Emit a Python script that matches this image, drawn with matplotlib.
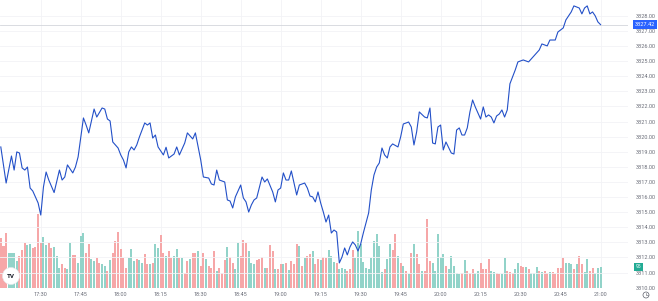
import numpy as np
import matplotlib
matplotlib.use('Agg')
import matplotlib.pyplot as plt
from matplotlib.patches import Ellipse
from matplotlib.lines import Line2D

plt.rcParams['font.family'] = ['Roboto', 'DejaVu Sans']

# minutes after 17:15 and close price at that minute
line_min = [0, 2, 4, 5, 6, 7, 8, 9, 10, 11, 12, 14, 15, 16, 17, 18, 20, 22, 23, 24,
            25, 27, 28, 29, 31, 32, 33, 35, 36, 38, 39, 40, 41, 42, 44, 45, 46, 47, 48, 49,
            50, 51, 52, 54, 55, 56, 57, 58, 59, 61, 62, 63, 65, 66, 67, 69, 70, 72, 73, 75,
            76, 78, 79, 80, 81, 82, 84, 85, 86, 87, 88, 90, 91, 92, 93, 94, 95, 96, 98, 99,
            100, 102, 103, 104, 105, 106, 107, 108, 109, 111, 112, 114, 115, 116, 117, 118, 119, 120, 121, 122,
            123, 124, 125, 126, 127, 128, 129, 130, 131, 132, 133, 134, 135, 136, 137, 138, 139, 140, 141, 142,
            143, 144, 145, 146, 147, 149, 150, 151, 153, 154, 155, 156, 157, 159, 160, 161, 162, 163, 164, 165,
            166, 167, 169, 170, 171, 172, 173, 174, 175, 176, 177, 178, 180, 181, 182, 183, 184, 185, 186, 187,
            188, 189, 190, 191, 193, 194, 196, 198, 200, 202, 203, 205, 206, 208, 209, 211, 212, 214, 215, 217,
            218, 219, 220, 221, 222, 223, 224, 225]
line_close = [3319.32, 3316.93, 3318.72, 3317.79, 3318.99, 3318.92, 3317.93, 3317.79, 3317.99, 3316.60,
              3316.40, 3315.61, 3314.81, 3316.67, 3317.66, 3317.13, 3316.30, 3317.79, 3317.13, 3317.33,
              3318.13, 3317.60, 3317.99, 3318.66, 3321.24, 3320.77, 3320.25, 3321.83, 3321.30, 3321.90,
              3321.83, 3321.17, 3321.04, 3319.65, 3319.25, 3318.79, 3318.46, 3317.93, 3318.99, 3319.32,
              3319.12, 3319.45, 3319.98, 3320.91, 3320.77, 3320.91, 3319.91, 3320.11, 3319.32, 3318.79,
              3319.30, 3318.59, 3318.85, 3319.32, 3318.79, 3319.58, 3320.25, 3319.85, 3320.25, 3318.46,
              3317.33, 3317.26, 3316.87, 3316.80, 3317.79, 3317.13, 3317.00, 3315.81, 3315.74, 3315.28,
              3316.01, 3316.80, 3315.94, 3315.68, 3315.01, 3315.48, 3315.81, 3315.94, 3317.33, 3317.00,
              3317.20, 3316.34, 3315.68, 3316.47, 3316.60, 3317.60, 3317.13, 3317.13, 3317.73, 3316.14,
              3316.80, 3316.93, 3316.60, 3316.07, 3316.01, 3315.68, 3316.34, 3315.61, 3315.01, 3314.35,
              3314.81, 3313.62, 3313.82, 3313.69, 3311.64, 3312.03, 3312.63, 3312.17, 3312.70, 3313.03,
              3312.83, 3312.43, 3312.89, 3313.62, 3314.28, 3314.95, 3316.47, 3317.46, 3317.99, 3318.26,
              3319.25, 3318.79, 3318.59, 3319.32, 3319.52, 3319.32, 3319.98, 3320.84, 3320.97, 3320.64,
              3319.45, 3320.31, 3321.64, 3321.30, 3321.24, 3321.90, 3319.58, 3319.52, 3320.64, 3320.77,
              3319.12, 3319.65, 3318.92, 3318.85, 3320.44, 3320.58, 3320.11, 3320.11, 3320.58, 3321.64,
              3322.43, 3321.97, 3321.17, 3321.97, 3321.30, 3321.44, 3321.30, 3320.91, 3321.37, 3321.50,
              3321.77, 3321.30, 3321.77, 3323.50, 3324.42, 3324.95, 3325.08, 3324.95, 3325.34, 3325.74,
              3326.14, 3326.01, 3326.40, 3326.40, 3326.93, 3327.20, 3327.73, 3328.26, 3328.66, 3328.52,
              3328.13, 3328.52, 3328.66, 3328.13, 3328.26, 3328.00, 3327.60, 3327.42]

# one volume bar per minute from 17:15
volume = [224, 189, 246, 159, 159, 156, 122, 144, 170, 204,
          194, 197, 182, 185, 332, 204, 230, 194, 204, 182,
          185, 144, 92, 107, 92, 84, 204, 147, 149, 114,
          234, 249, 159, 197, 129, 122, 134, 114, 107, 99,
          77, 125, 159, 212, 254, 174, 137, 92, 134, 174,
          122, 129, 125, 114, 155, 107, 110, 114, 200, 182,
          237, 159, 144, 167, 137, 144, 174, 137, 134, 69,
          122, 129, 159, 159, 167, 99, 159, 129, 99, 92,
          167, 77,
          92, 69, 125, 185, 140, 114, 84, 204, 144, 214,
          204, 167, 114, 110, 125, 129, 140, 92, 92, 192,
          167, 84, 84, 107, 107, 114, 80, 122, 107, 197,
          189, 99, 137, 144, 152, 167, 110, 129, 125, 140,
          134, 170, 144, 119, 114, 84, 92, 84, 77, 84,
          170, 137, 257, 197, 117, 92, 84, 137, 212, 244,
          189, 74, 84, 129, 200, 170, 242, 144, 114, 99,
          77, 62, 159, 200, 152, 107, 77, 77, 309, 122,
          114, 77,
          242, 140, 152, 99, 84, 144, 99, 69, 64, 69,
          125, 77, 69, 84, 69, 77, 114, 84, 84, 129,
          77, 74, 69, 64, 64, 134, 77, 74, 69, 84,
          114, 99, 95, 95, 84, 69, 69, 95, 77, 74,
          77, 69, 72, 74, 64, 92, 92, 134, 114, 114,
          110, 84, 107, 144, 110, 72, 129, 77, 92, 69,
          92, 95]
# g = up bar, r = down bar
vol_dir = ("rrrggggrrr" "ggrrrrggrr" "gggrrggrrg" "ggrrggrrgg" "rgrrrrrrgg"
           "grggrrgrgg" "rrgrrggrgr" "rgrrgrrgrr" "rg"
           "rrrgrrggrr" "rgggrrrgrr" "rgrrgrgrrr" "grgrrgrrgr" "rgggrgggrr"
           "rggggggggg" "ggrggrrgrg" "rgrgrrgrrr" "gg"
           "gggrgggggr" "grrrggrrrr" "ggrrggrrrg" "grrgrgggrg" "rrgrrrrrgg"
           "grgrrggrrg" "gg")

time_labels = ['17:30', '17:45', '18:00', '18:15', '18:30', '18:45', '19:00', '19:15',
               '19:30', '19:45', '20:00', '20:15', '20:30', '20:45', '21:00']
price_ticks = list(range(3310, 3329))

W, H = 658, 301
fig = plt.figure(figsize=(W / 100, H / 100), dpi=100)
ax = fig.add_axes([0, 13 / H, 628 / W, 288 / H])

# volume bars (behind)
xs = np.arange(len(volume))
cols = ['#92d3c9' if d == 'g' else '#f6a7a8' for d in vol_dir]
ax.bar(xs, volume, width=0.78, color=cols, linewidth=0)
ax.set_ylim(0, 1296)
ax.set_xlim(-0.3, 235.3)
ax.set_yticks([])

def to_min(s):
    h, m = s.split(':')
    return (int(h) - 17) * 60 + int(m) - 15

tick_pos = [to_min(s) for s in time_labels]
ax.set_xticks(tick_pos)
ax.set_xticklabels(time_labels)
ax.tick_params(axis='x', length=0, pad=3, labelsize=4, labelcolor='#6a6d78')
for p in tick_pos:
    ax.axvline(p, color='#f2f3f6', lw=0.6, zorder=0)
for s in ax.spines.values():
    s.set_visible(False)

# price line
pax = ax.twinx()
pax.set_ylim(3309.98, 3329.05)
pax.set_xlim(-0.3, 235.3)
for p in price_ticks:
    pax.axhline(p, color='#f2f3f6', lw=0.6, zorder=0)
last = line_close[-1]
pax.axhline(last, color='#d3d6dc', lw=0.6, zorder=1)
pax.plot(line_min, line_close, color='#2350c8', lw=0.8, zorder=3)
pax.set_yticks(price_ticks)
pax.set_yticklabels(['%.2f' % p for p in price_ticks])
pax.tick_params(axis='y', length=0, pad=5.5, labelsize=4, labelcolor='#6a6d78')
for s in pax.spines.values():
    s.set_visible(False)

# last price tag
pax.annotate('%.2f' % last, xy=(645 / W, last), xycoords=('figure fraction', 'data'),
             ha='center', va='center', fontsize=4, color='white',
             bbox=dict(boxstyle='square,pad=0.3', fc='#2962ff', ec='none'))
# last volume tag
ax.annotate(str(volume[-1]), xy=(638.5 / W, volume[-1]), xycoords=('figure fraction', 'data'),
            ha='center', va='center', fontsize=3.6, color='white',
            bbox=dict(boxstyle='square,pad=0.35', fc='#22ab94', ec='none'))

# logo bottom left
fig.add_artist(Ellipse((11 / W, 1 - 276 / H), 17 / W, 17 / H, transform=fig.transFigure,
                       fc='white', ec='#e6e8ec', lw=0.4, zorder=5))
fig.text(11 / W, 1 - 276.5 / H, 'TV', ha='center', va='center', fontsize=4.5,
         fontweight='bold', color='#131722', zorder=6)

# small clock icon in the corner
fig.add_artist(Ellipse((646 / W, 1 - 295 / H), 6 / W, 6 / H, transform=fig.transFigure,
                       fc='none', ec='#5d606b', lw=0.5))
fig.add_artist(Line2D([646 / W, 646 / W, 647.5 / W], [1 - 293 / H, 1 - 295 / H, 1 - 295 / H],
                      transform=fig.transFigure, color='#5d606b', lw=0.4))

fig.savefig('out.png', dpi=100)
